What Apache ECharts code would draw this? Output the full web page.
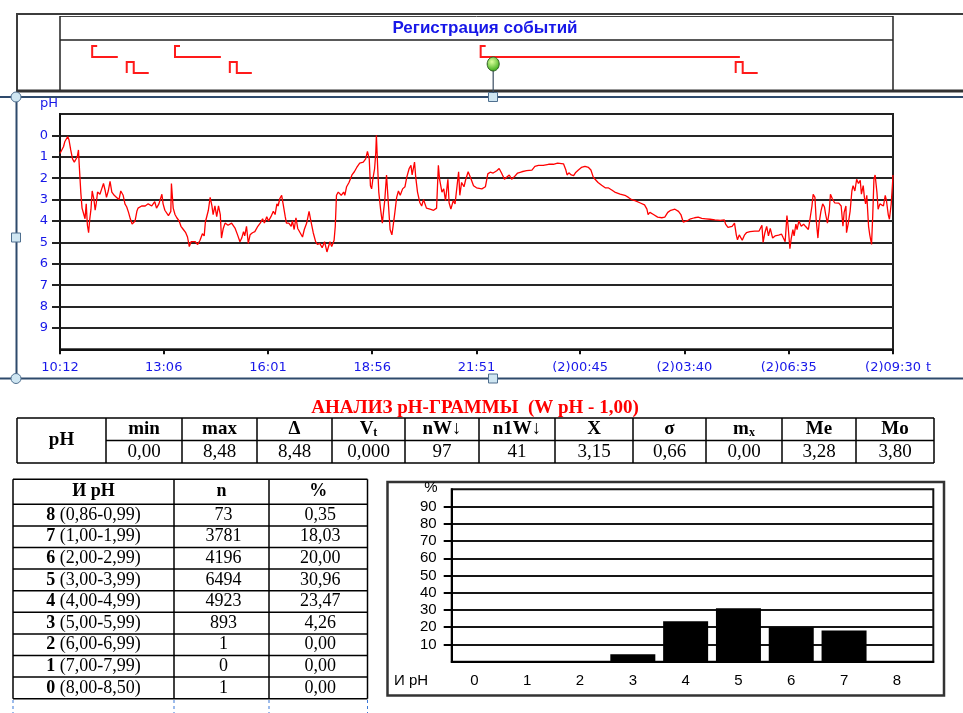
<!DOCTYPE html>
<html><head><meta charset="utf-8">
<script src="https://cdn.jsdelivr.net/npm/echarts@6/dist/echarts.min.js"></script>
<style>html,body{margin:0;padding:0;background:#fff;}#c{width:963px;height:713px;}</style>
</head><body><div id="c"></div>
<script>
// ---------- DATA ----------
// pH trace: minutes elapsed since 10:12, pH value
const phTimes = [0,6,8,13,15,18,21,24,27,29,31,32,34,35,37,40,42,44,46,48,50,52,54,57,59,61,63,67,70,73,76,78,81,84,87,91,95,99,102,106,109,112,115,118,121,126,129,131,137,143,148,154,159,162,166,171,173,176,182,186,187,190,193,196,200,203,207,211,214,217,220,223,227,231,235,239,242,244,247,249,252,255,257,260,263,266,269,271,274,277,282,288,294,298,302,305,308,310,313,316,319,323,327,332,336,340,343,347,350,354,358,361,364,366,369,372,375,378,380,384,388,390,393,396,399,
407,410,414,418,421,425,429,432,436,440,444,448,450,453,456,460,462,464,467,472,476,478,481,485,490,494,498,503,509,513,516,519,521,523,525,528,530,531,533,535,538,541,543,545,548,551,554,557,559,562,565,568,571,575,579,582,586,589,591,595,597,600,604,607,610,615,621,627,632,635,637,641,644,647,651,653,656,660,663,666,669,671,674,678,681,685,690,694,699,708,714,718,722,727,733,737,741,746,750,754,758,762,768,775,783,792,
797,803,811,820,828,835,845,849,851,854,858,862,865,870,875,881,887,891,895,898,903,909,915,920,926,931,940,948,954,959,965,973,981,985,987,990,996,1003,1010,1015,1020,1025,1032,1038,1042,1046,1052,1057,1065,1071,1077,1084,1091,1099,1108,1115,1117,1121,1124,1128,1132,1135,1137,1140,1143,1145,1149,1152,1158,1166,1173,1178,1180,1183,1186,1189,1192,1196,
1200,1206,1211,1214,1217,1220,1222,1225,1227,1230,1232,1235,1237,1240,1244,1248,1251,1256,1259,1262,1264,1267,1269,1272,1274,1277,1280,1283,1285,1288,1291,1293,1296,1300,1303,1307,1311,1314,1316,1319,1320,1323,1326,1329,1331,1334,1337,1340,1343,1345,1348,1350,1352,1354,1357,1359,1362,1364,1366,1368,1371,1373,1376,1379,1382,1385,1387,1390,1392,1395,1397,1398];
const phValues = [0.85,0.52,0.30,0.05,0.20,0.68,1.10,1.25,1.25,1.00,0.68,1.25,1.25,2.70,3.40,3.70,3.90,3.20,4.20,4.55,3.90,3.45,2.60,3.00,3.50,3.15,2.65,2.75,2.50,2.25,2.60,2.90,2.60,2.15,2.65,2.80,2.90,3.00,2.60,2.80,3.20,3.35,3.60,3.90,4.15,4.00,3.55,3.40,3.30,3.30,3.20,3.30,3.10,3.40,3.20,2.75,3.20,3.50,3.75,3.55,2.25,3.40,3.70,3.85,4.00,4.25,4.40,4.55,4.75,5.20,4.97,5.05,4.97,5.10,4.90,4.60,4.70,4.05,4.00,3.50,2.90,3.30,3.70,3.30,3.80,3.30,3.70,4.80,4.35,4.10,4.20,4.10,4.35,4.65,4.97,4.80,4.50,4.70,4.25,5.05,4.65,4.55,4.50,4.25,4.10,3.90,4.10,3.80,4.00,3.80,3.55,3.70,3.20,3.30,2.95,2.80,3.30,3.80,4.10,4.10,4.25,4.00,4.40,3.85,4.35,
4.75,4.40,4.10,3.55,4.00,4.55,4.97,5.10,5.05,5.25,4.97,5.45,5.40,4.97,5.20,4.90,4.25,2.80,2.65,2.80,2.65,2.80,2.40,2.20,1.85,1.70,1.50,1.30,1.25,1.10,0.75,1.10,2.35,2.50,2.05,1.55,0.78,0.00,1.40,2.65,3.45,4.10,3.55,3.05,1.85,3.15,4.40,4.65,4.25,3.60,2.90,2.60,2.80,2.50,2.40,1.95,1.55,1.40,1.85,1.25,1.95,2.65,3.15,3.30,3.00,3.40,3.45,3.50,3.40,1.40,2.05,2.65,2.50,3.05,2.05,3.15,3.45,3.05,3.20,3.15,1.70,2.80,2.20,2.40,2.05,1.70,2.05,2.35,2.45,2.50,2.40,1.80,1.72,1.76,1.65,1.55,1.76,2.05,1.95,1.85,2.05,1.95,1.76,1.70,1.65,1.62,
1.45,1.40,1.40,1.35,1.35,1.30,1.33,1.62,1.85,1.75,1.85,1.88,1.75,1.62,1.50,1.45,1.50,1.62,1.95,2.05,2.20,2.33,2.45,2.45,2.55,2.65,2.75,2.80,2.90,3.00,3.05,3.15,3.25,3.45,3.70,3.60,3.70,3.82,3.85,3.82,3.60,3.50,3.45,3.55,3.70,4.05,4.00,3.92,3.85,3.82,3.88,3.90,3.92,3.95,3.97,3.95,4.15,4.30,4.28,4.25,4.10,4.65,4.88,4.65,4.70,4.90,4.65,4.55,4.50,4.48,4.48,4.20,5.00,4.55,4.25,4.70,4.35,4.80,
4.70,4.66,4.62,4.80,4.97,3.75,4.25,5.30,4.85,4.40,4.70,4.15,4.40,4.00,4.25,4.15,4.25,4.40,3.85,3.30,2.75,2.90,3.92,4.80,4.10,3.55,3.20,3.35,3.70,4.10,3.55,2.75,2.95,3.15,3.17,3.17,3.30,4.25,3.60,3.30,4.55,4.10,3.55,2.60,2.35,2.60,2.05,2.25,2.10,2.75,2.35,2.90,3.20,2.80,4.25,4.65,5.10,3.75,2.05,1.85,2.65,3.45,3.20,3.15,3.30,2.80,3.05,3.70,3.92,3.20,2.35,1.85];

const xTickMinutes = [0,174,349,524,699,873,1048,1223,1398];
const xTickLabels = ['10:12','13:06','16:01','18:56','21:51','(2)00:45','(2)03:40','(2)06:35','(2)09:30'];
const yTickValues = [0,1,2,3,4,5,6,7,8,9];
const phAxisName = 'pH';
const timeAxisName = 't';

// events (minutes since 10:12)
const eventRows = ['C','П'];
const eventC = [[54,97],[193,270],[706,1141]];   // start, end
const eventP = [112,285,1134];
const cursorTime = 727;
const eventsTitle = 'Регистрация событий';

// analysis table
const reportTitle = 'АНАЛИЗ pH-ГРАММЫ  (W pH - 1,00)';
const statRowLabel = 'pH';
const statHeaders = ['min','max','Δ','V{sub|t}','nW↓','n1W↓','X','σ','m{sub|x}','Me','Mo'];
const statValues = ['0,00','8,48','8,48','0,000','97','41','3,15','0,66','0,00','3,28','3,80'];

// histogram table
const histHeaders = ['И pH','n','%'];
const histIdx = [8,7,6,5,4,3,2,1,0];
const histRange = ['(0,86-0,99)','(1,00-1,99)','(2,00-2,99)','(3,00-3,99)','(4,00-4,99)','(5,00-5,99)','(6,00-6,99)','(7,00-7,99)','(8,00-8,50)'];
const histCount = ['73','3781','4196','6494','4923','893','1','0','1'];
const histPct = ['0,35','18,03','20,00','30,96','23,47','4,26','0,00','0,00','0,00'];
const barCats = [0,1,2,3,4,5,6,7,8];
const barYTicks = [10,20,30,40,50,60,70,80,90];
const barXName = 'И pH';
const barYName = '%';

// ---------- CHART ----------
const BLUE = '#1717e8';
const SERIF = '"Liberation Serif","Times New Roman",serif';
const SANS = '"Liberation Sans",Arial,sans-serif';
const chart = echarts.init(document.getElementById('c'), null, {renderer:'canvas'});

const phData = phTimes.map((t,i)=>[t, phValues[i]]);
const pctNum = s => Number(s.replace(',', '.'));
const barData = barCats.map(c => [c, pctNum(histPct[histIdx.indexOf(c)])]);

// graphic (frames, tables)
const g = [];
const L = (x1,y1,x2,y2,w,c,dash,z) => g.push({type:'line', silent:true, z: z||1, shape:{x1,y1,x2,y2}, style:{stroke:c||'#000', lineWidth:w||1, lineDash:dash||null}});
const T = (x,y,text,font,fill,rich,align) => g.push({type:'text', silent:true, z:2, x, y, style:{text, font, fill:fill||'#000', align:align||'center', verticalAlign:'middle', rich}});

// top events panel
g.push({type:'rect', silent:true, shape:{x:17,y:14,width:970,height:77}, style:{fill:null, stroke:'#3c3c3c', lineWidth:2}});
L(17,91,963,91,3,'#333');
L(60,16.5,893,16.5,1,'#444');
L(60,16,60,90,1.5,'#222');
L(893,16,893,90,1.5,'#222');
L(60,40,893,40,1.5,'#222');
T(485,28,eventsTitle,'bold 17px '+SANS,BLUE);

// selection frame around pH chart
const FR = '#2e4a6c';
L(0,97,963,97,2,FR,null,5);
L(0,378.5,963,378.5,2,FR,null,5);
L(16.5,97,16.5,378.5,2,FR,null,5);
const HF = '#cfe6f2';
g.push({type:'circle', silent:true, z:6, shape:{cx:16,cy:97,r:5}, style:{fill:HF, stroke:'#4f6f8f', lineWidth:1}});
g.push({type:'circle', silent:true, z:6, shape:{cx:16,cy:378.5,r:5}, style:{fill:HF, stroke:'#4f6f8f', lineWidth:1}});
g.push({type:'rect', silent:true, z:6, shape:{x:11.5,y:233,width:9,height:9}, style:{fill:HF, stroke:'#4f6f8f', lineWidth:1}});
g.push({type:'rect', silent:true, z:6, shape:{x:488.5,y:92.5,width:9,height:9}, style:{fill:HF, stroke:'#4f6f8f', lineWidth:1}});
g.push({type:'rect', silent:true, z:6, shape:{x:488.5,y:374,width:9,height:9}, style:{fill:HF, stroke:'#4f6f8f', lineWidth:1}});
// axis names of the pH chart
T(49,104,phAxisName,'13px "DejaVu Sans"',BLUE);
T(926,368,timeAxisName,'13px "DejaVu Sans"',BLUE,null,'left');

// analysis table
T(475,408,reportTitle,'bold 19px '+SERIF,'#ff0000');
const c1 = [17,106,182,257,332,405,479,555,633,706,782,856,934];
const r1 = [418,440.5,463];
L(c1[0],r1[0],c1[12],r1[0],1.5); L(c1[0],r1[2],c1[12],r1[2],1.5); L(c1[1],r1[1],c1[12],r1[1],1.5);
c1.forEach(x=>L(x,r1[0],x,r1[2],1.5));
T((c1[0]+c1[1])/2,r1[1],statRowLabel,'bold 19px '+SERIF);
const subRich = {sub:{fontFamily:SERIF, fontSize:12, fontWeight:'bold', padding:[7,0,0,0]}};
statHeaders.forEach((h,i)=>{
  const cx=(c1[i+1]+c1[i+2])/2;
  T(cx,(r1[0]+r1[1])/2,h,'bold 19px '+SERIF,'#000',subRich);
  T(cx,(r1[1]+r1[2])/2,statValues[i],'19px '+SERIF);
});

// histogram table
const c2 = [13,174,269,367.5];
const r2 = [479.3,504.3];
for (let i=1;i<=histIdx.length;i++) r2.push(504.3+21.6*i);
c2.forEach(x=>L(x,r2[0],x,r2[r2.length-1],1.5));
r2.forEach(y=>L(c2[0],y,c2[3],y,1.5));
histHeaders.forEach((h,i)=>T((c2[i]+c2[i+1])/2,(r2[0]+r2[1])/2,h,'bold 18px '+SERIF));
const bRich = {b:{fontFamily:SERIF, fontSize:18, fontWeight:'bold'}, r:{fontFamily:SERIF, fontSize:18}};
histIdx.forEach((k,i)=>{
  const cy=(r2[i+1]+r2[i+2])/2;
  T((c2[0]+c2[1])/2,cy,'{b|'+k+'}{r| '+histRange[i]+'}','18px '+SERIF,'#000',bRich);
  T((c2[1]+c2[2])/2+2,cy,histCount[i],'18px '+SERIF);
  T((c2[2]+c2[3])/2+2,cy,histPct[i],'18px '+SERIF);
});
c2.forEach(x=>L(x,700,x,713,1,'#3b78d8',[3,3]));

// bar chart outer frame and axis names
g.push({type:'rect', silent:true, shape:{x:387.5,y:482,width:556.5,height:213.5}, style:{fill:null, stroke:'#333', lineWidth:2.5}});
T(431,488,barYName,'15px '+SANS,'#000');
T(411,681,barXName,'15px '+SANS,'#000');

const option = {
  animation:false,
  backgroundColor:'#fff',
  graphic: g,
  grid:[
    {left:60, right:70, top:41, height:40, show:false},
    {left:60, right:70, top:114, height:235.3, show:true, borderColor:'#222', borderWidth:2, backgroundColor:'transparent'},
    {left:451.7, right:29.7, top:489.3, height:172.4, show:true, borderColor:'#111', borderWidth:2, backgroundColor:'transparent'}
  ],
  xAxis:[
    {gridIndex:0, type:'value', min:0, max:1398, show:false},
    {gridIndex:1, type:'value', min:0, max:1398,
      axisLine:{show:true, onZero:false, lineStyle:{color:'#111', width:2}},
      axisTick:{show:true, customValues:xTickMinutes, length:5, lineStyle:{color:'#111', width:2}},
      axisLabel:{customValues:xTickMinutes, formatter:v=>xTickLabels[xTickMinutes.indexOf(v)], color:BLUE, fontFamily:'DejaVu Sans', fontSize:13, margin:12},
      splitLine:{show:false}},
    {gridIndex:2, type:'value', min:-0.43, max:8.69,
      axisLine:{show:true, onZero:false, lineStyle:{color:'#000', width:2}},
      axisTick:{show:false}, splitLine:{show:false},
      axisLabel:{customValues:barCats, formatter:v=>String(v), color:'#000', fontFamily:SANS, fontSize:15, margin:12}}
  ],
  yAxis:[
    {gridIndex:0, type:'category', data:eventRows, inverse:true, show:false},
    {gridIndex:1, type:'value', inverse:true, min:-1, max:10, interval:1,
      axisLine:{show:true, onZero:false, lineStyle:{color:'#111', width:2}},
      axisTick:{show:true, customValues:yTickValues, length:8, lineStyle:{color:'#222', width:2}},
      axisLabel:{customValues:yTickValues, color:BLUE, fontFamily:'DejaVu Sans', fontSize:13, margin:12},
      splitLine:{show:true, lineStyle:{color:'#262626', width:2}}},
    {gridIndex:2, type:'value', min:0, max:100, interval:10,
      axisLine:{show:true, onZero:false, lineStyle:{color:'#000', width:2}},
      axisTick:{show:true, customValues:barYTicks, length:8, lineStyle:{color:'#000', width:2}},
      axisLabel:{customValues:barYTicks, color:'#000', fontFamily:SANS, fontSize:15, margin:15},
      splitLine:{show:true, lineStyle:{color:'#161616', width:2}}}
  ],
  series:[
    {type:'custom', xAxisIndex:0, yAxisIndex:0, clip:false, silent:true,
      data:eventC.map(e=>[e[0], e[1], 0]), encode:{x:[0,1], y:2},
      renderItem:(p,api)=>{
        const s=api.coord([api.value(0), 0]); const e=api.coord([api.value(1), 0]);
        return {type:'polyline', shape:{points:[[s[0]+5,s[1]-5],[s[0],s[1]-5],[s[0],s[1]+6],[e[0],s[1]+6]]},
          style:{stroke:'#ff1a1a', fill:null, lineWidth:2}};
      }},
    {type:'custom', xAxisIndex:0, yAxisIndex:0, clip:false, silent:true,
      data:eventP.map(t=>[t, 1]), encode:{x:0, y:1},
      renderItem:(p,api)=>{
        const s=api.coord([api.value(0), 1]);
        return {type:'polyline', shape:{points:[[s[0],s[1]+2],[s[0],s[1]-9],[s[0]+7,s[1]-9],[s[0]+7,s[1]+2],[s[0]+22,s[1]+2]]},
          style:{stroke:'#ff1a1a', fill:null, lineWidth:2}};
      }},
    {type:'custom', xAxisIndex:0, yAxisIndex:0, clip:false, silent:true, z:10,
      data:[[cursorTime, 1]], encode:{x:0, y:1},
      renderItem:(p,api)=>{
        const c=api.coord([api.value(0), 1]);
        return {type:'group', children:[
          {type:'line', shape:{x1:c[0], y1:c[1]-7, x2:c[0], y2:c[1]+22}, style:{stroke:'#3a4c60', lineWidth:1.2}},
          {type:'ellipse', shape:{cx:c[0], cy:c[1]-7, rx:6, ry:7},
            style:{fill:new echarts.graphic.RadialGradient(0.4,0.35,0.7,[{offset:0,color:'#dcff9c'},{offset:1,color:'#3fae1a'}]), stroke:'#2b5a22', lineWidth:1}}
        ]};
      }},
    {type:'line', xAxisIndex:1, yAxisIndex:1, data:phData, showSymbol:false, symbol:'none',
      lineStyle:{color:'#ff0000', width:1.3}, silent:true},
    {type:'bar', xAxisIndex:2, yAxisIndex:2, data:barData, barWidth:45, itemStyle:{color:'#000'}, silent:true}
  ]
};
chart.setOption(option);
</script>
</body></html>
